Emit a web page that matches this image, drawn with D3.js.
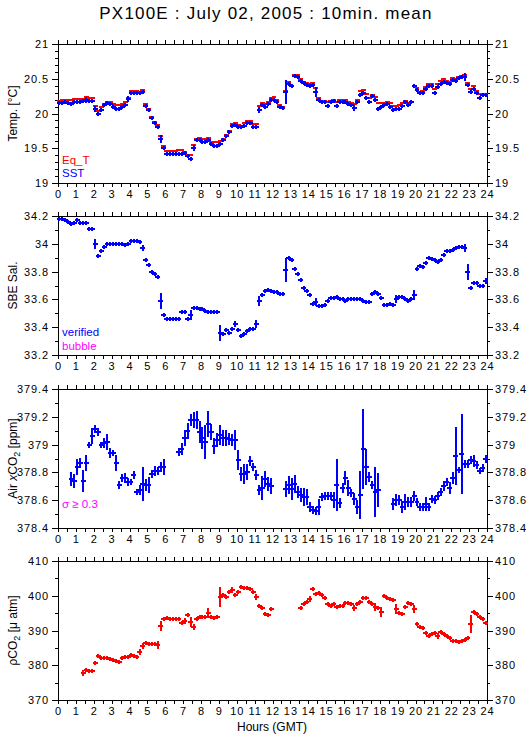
<!DOCTYPE html>
<html>
<head>
<meta charset="utf-8">
<script src="https://cdn.jsdelivr.net/npm/d3@7"></script>
<style>
  body { margin: 0; background: #fff; }
  svg text { font-family: "Liberation Sans", Arial, Helvetica, sans-serif; }
</style>
</head>
<body>
<svg id="chart" width="529" height="739"></svg>
<script>
// 10 min means, 6 slots per hour, 0-24 GMT (one row = one hour)
const eqT = [
  20.18,20.19,20.19,20.20,20.20,20.21,
  20.21,20.21,20.21,20.24,20.23,20.23,
  20.11,20.04,20.09,20.14,20.17,20.16,
  20.14,20.12,20.12,20.13,20.16,20.22,
  20.33,20.33,20.32,20.31,20.34,20.14,
  20.07,19.95,19.88,19.83,19.67,19.53,
  19.46,19.46,19.46,19.46,19.47,19.48,
  19.45,19.41,19.40,19.55,19.64,19.65,
  19.64,19.64,19.65,19.59,19.59,19.59,
  19.61,19.63,19.69,19.75,19.85,19.86,
  19.83,19.82,19.86,19.89,19.89,19.85,
  19.85,20.11,20.15,20.14,20.17,20.23,
  20.24,20.19,20.12,20.10,20.33,20.45,
  20.40,20.56,20.55,20.49,20.46,20.44,
  20.42,20.44,20.36,20.23,20.18,20.18,
  20.17,20.18,20.20,20.17,20.19,20.20,
  20.19,20.17,20.15,20.13,20.19,20.32,
  20.34,20.28,20.22,20.27,20.24,20.15,
  20.15,20.15,20.17,20.15,20.11,20.11,
  20.12,20.15,20.18,20.15,20.17,20.40,
  20.36,20.31,20.33,20.38,20.42,20.43,
  20.35,20.43,20.47,20.49,20.47,20.45,
  20.51,20.50,20.53,20.54,20.55,20.44,
  20.35,20.39,20.33,20.28,20.28,20.28
];

const sst = [
  20.15,20.15,20.16,20.15,20.14,20.16,
  20.17,20.17,20.18,20.20,20.18,20.18,
  20.07,19.99,20.05,20.12,20.15,20.14,
  20.10,20.07,20.07,20.10,20.12,20.21,
  20.29,20.29,20.30,20.30,20.31,20.11,
  20.05,19.93,19.87,19.80,19.63,19.50,
  19.42,19.42,19.42,19.42,19.42,19.42,
  19.43,19.39,19.35,19.50,19.62,19.62,
  19.59,19.59,19.62,19.56,19.53,19.53,
  19.56,19.62,19.68,19.74,19.82,19.83,
  19.80,19.80,19.82,19.87,19.87,19.81,
  19.81,20.05,20.12,20.10,20.14,20.20,
  20.19,20.17,20.10,20.08,20.31,20.43,
  20.39,20.54,20.52,20.47,20.44,20.41,
  20.40,20.41,20.31,20.20,20.16,20.16,
  20.11,20.16,20.18,20.11,20.16,20.17,
  20.16,20.13,20.12,20.08,20.16,20.27,
  20.29,20.23,20.17,20.25,20.20,20.07,
  20.10,20.12,20.14,20.10,20.05,20.06,
  20.07,20.11,20.16,20.12,20.16,20.39,
  20.34,20.29,20.30,20.35,20.39,20.40,
  20.30,20.38,20.43,20.46,20.44,20.43,
  20.48,20.47,20.51,20.52,20.52,20.41,
  20.31,20.35,20.30,20.23,20.26,20.27
];

const sstSd = [
  0.02,0.02,0.02,0.02,0.02,0.02,
  0.02,0.02,0.02,0.036,0.02,0.02,
  0.04,0.03,0.02,0.02,0.02,0.02,
  0.02,0.02,0.02,0.02,0.02,0.04,
  0.02,0.02,0.02,0.02,0.03,0.02,
  0.02,0.02,0.02,0.02,0.06,0.03,
  0.02,0.02,0.02,0.02,0.02,0.02,
  0.02,0.03,0.03,0.04,0.02,0.02,
  0.02,0.02,0.02,0.02,0.02,0.02,
  0.02,0.02,0.02,0.02,0.02,0.02,
  0.02,0.02,0.02,0.02,0.02,0.02,
  0.02,0.04,0.02,0.02,0.02,0.02,
  0.02,0.02,0.02,0.02,0.17,0.03,
  0.03,0.02,0.02,0.02,0.02,0.02,
  0.02,0.02,0.07,0.03,0.02,0.02,
  0.02,0.02,0.02,0.035,0.02,0.02,
  0.02,0.02,0.02,0.04,0.02,0.02,
  0.02,0.02,0.03,0.02,0.02,0.03,
  0.02,0.02,0.02,0.02,0.03,0.02,
  0.02,0.02,0.02,0.02,0.02,0.02,
  0.02,0.02,0.02,0.02,0.02,0.02,
  0.03,0.02,0.02,0.02,0.02,0.02,
  0.02,0.02,0.02,0.02,0.06,0.03,
  0.02,0.02,0.02,0.02,0.03,0.02
];

const salinity = [
  34.18,34.18,34.17,34.16,34.14,34.15,
  34.17,34.15,34.15,34.15,34.11,34.11,
  34.00,33.91,33.95,33.98,34.00,34.00,
  34.00,34.00,34.00,34.00,33.99,34.00,
  34.02,34.02,34.02,34.01,33.97,33.88,
  33.85,33.80,33.78,33.76,33.59,33.49,
  33.46,33.46,33.46,33.46,33.46,33.51,
  33.51,33.46,33.49,33.54,33.54,33.53,
  33.53,33.52,33.51,33.51,33.51,33.51,
  33.36,33.35,33.38,33.36,33.39,33.42,
  33.38,33.34,33.35,33.375,33.39,33.39,
  33.42,33.59,33.63,33.66,33.67,33.66,
  33.65,33.65,33.64,33.64,33.81,33.90,
  33.88,33.82,33.78,33.74,33.68,33.66,
  33.63,33.57,33.58,33.55,33.55,33.56,
  33.59,33.61,33.61,33.615,33.60,33.60,
  33.59,33.60,33.60,33.60,33.605,33.60,
  33.59,33.58,33.58,33.64,33.655,33.64,
  33.61,33.56,33.56,33.57,33.56,33.60,
  33.62,33.62,33.60,33.59,33.60,33.63,
  33.82,33.84,33.83,33.86,33.90,33.89,
  33.88,33.87,33.88,33.92,33.95,33.95,
  33.955,33.97,33.98,33.98,33.97,33.80,
  33.68,33.72,33.72,33.70,33.70,33.73
];

const salinitySd = [
  0.012,0.012,0.012,0.012,0.012,0.012,
  0.012,0.012,0.012,0.012,0.012,0.012,
  0.036,0.015,0.015,0.012,0.012,0.012,
  0.012,0.012,0.012,0.012,0.012,0.012,
  0.012,0.012,0.012,0.012,0.025,0.015,
  0.015,0.015,0.015,0.015,0.058,0.015,
  0.012,0.012,0.012,0.012,0.012,0.015,
  0.015,0.012,0.036,0.012,0.012,0.012,
  0.012,0.012,0.012,0.012,0.012,0.012,
  0.054,0.015,0.012,0.012,0.012,0.02,
  0.015,0.012,0.012,0.012,0.012,0.012,
  0.03,0.036,0.015,0.012,0.012,0.012,
  0.012,0.012,0.012,0.012,0.084,0.015,
  0.015,0.015,0.015,0.015,0.012,0.012,
  0.012,0.015,0.03,0.012,0.012,0.012,
  0.012,0.012,0.012,0.012,0.012,0.012,
  0.012,0.012,0.012,0.012,0.012,0.012,
  0.012,0.012,0.012,0.015,0.015,0.015,
  0.015,0.012,0.012,0.012,0.012,0.032,
  0.012,0.012,0.012,0.012,0.012,0.038,
  0.015,0.012,0.012,0.015,0.012,0.012,
  0.012,0.012,0.012,0.012,0.012,0.012,
  0.012,0.012,0.012,0.012,0.03,0.06,
  0.012,0.015,0.012,0.012,0.012,0.02
];

const airXco2 = [
  null,null,null,null,378.75,378.74,
  378.84,378.87,378.74,378.87,379.00,379.06,
  379.11,379.09,379.00,379.01,379.02,378.94,
  378.94,378.87,378.71,378.76,378.76,378.73,
  378.73,378.78,378.66,378.67,378.72,378.71,
  378.71,378.79,378.81,378.81,378.84,378.84,
  null,null,null,null,378.95,378.97,
  379.05,379.10,379.18,379.18,379.18,379.09,
  379.05,379.02,379.15,379.09,378.99,379.03,
  379.07,379.05,379.05,379.04,379.03,379.03,
  378.89,378.79,378.79,378.80,378.88,378.84,
  378.78,378.67,378.69,378.75,378.72,378.70,
  null,null,null,null,378.68,378.71,
  378.68,378.72,378.66,378.64,378.62,378.62,
  378.55,378.53,378.52,378.55,378.62,378.63,
  378.63,378.63,378.60,378.71,378.58,378.69,
  378.76,378.69,378.65,378.61,378.55,378.64,
  378.97,378.84,378.77,378.71,378.66,378.67,
  null,null,null,null,378.57,378.60,
  378.60,378.55,378.59,378.59,378.59,378.63,
  378.59,378.55,378.55,378.57,378.55,378.61,
  378.60,378.63,378.66,378.70,378.73,378.69,
  378.76,378.92,378.82,378.93,378.86,378.86,
  378.89,378.88,378.85,378.81,378.83,378.90
];

const airXco2Sd = [
  null,null,null,null,0.052,0.048,
  0.054,0.036,0.08,0.06,0.025,0.054,
  0.03,0.032,0.024,0.038,0.054,0.038,
  0.024,0.06,0.03,0.028,0.036,0.03,
  0.024,0.032,0.024,0.036,0.12,0.044,
  0.054,0.032,0.036,0.026,0.038,0.058,
  null,null,null,null,0.03,0.044,
  0.06,0.054,0.042,0.06,0.066,0.078,
  0.078,0.12,0.09,0.06,0.06,0.052,
  0.072,0.054,0.054,0.042,0.042,0.072,
  0.072,0.048,0.07,0.054,0.036,0.032,
  0.038,0.036,0.084,0.06,0.048,0.06,
  null,null,null,null,0.06,0.066,
  0.082,0.066,0.042,0.048,0.064,0.054,
  0.036,0.03,0.029,0.054,0.03,0.03,
  0.03,0.03,0.054,0.19,0.038,0.036,
  0.05,0.056,0.03,0.042,0.048,0.17,
  0.29,0.13,0.036,0.03,0.18,0.12,
  null,null,null,null,0.046,0.04,
  0.038,0.042,0.058,0.036,0.036,0.034,
  0.032,0.03,0.03,0.048,0.03,0.03,
  0.03,0.028,0.03,0.036,0.028,0.042,
  0.04,0.21,0.02,0.29,0.03,0.03,
  0.03,0.04,0.03,0.024,0.03,0.03
];

const pco2 = [
  null,null,null,null,null,null,
  null,null,377.87,378.63,378.44,378.44,
  380.55,382.66,382.18,381.99,382.18,381.80,
  381.51,381.32,381.03,381.99,382.47,382.47,
  382.95,382.76,382.47,383.72,385.64,386.31,
  386.02,386.02,386.02,385.83,391.29,393.31,
  393.50,393.31,393.31,393.31,393.31,392.06,
  392.73,394.46,392.35,391.10,393.21,393.79,
  393.79,393.79,394.94,393.98,393.69,393.98,
  399.54,400.22,399.54,400.98,401.65,400.22,
  401.17,402.42,402.13,402.13,401.94,400.98,
  399.74,397.15,396.57,394.65,394.46,396.19,
  null,null,null,null,null,null,
  null,null,null,396.57,397.63,398.30,
  398.97,401.85,400.50,400.89,400.22,399.45,
  397.63,397.15,397.53,396.86,397.15,397.05,
  398.01,397.82,397.53,396.38,397.53,398.30,
  399.45,399.26,398.11,397.53,396.67,396.38,
  395.42,399.93,399.26,399.06,398.78,396.19,
  394.94,394.65,396.86,398.01,397.53,396.19,
  391.87,391.10,390.62,389.18,388.42,388.90,
  389.18,388.42,389.66,388.90,388.51,387.75,
  386.98,386.98,386.79,386.98,387.17,387.75,
  391.78,395.23,394.75,393.79,393.21,392.06
];

const pco2Sd = [
  null,null,null,null,null,null,
  null,null,0.72,0.6,0.6,0.6,
  0.67,0.6,0.6,0.6,0.6,0.6,
  0.6,0.6,0.6,0.6,0.6,0.6,
  0.6,0.6,0.6,0.82,0.82,0.6,
  0.6,0.6,0.6,1.15,1.53,0.6,
  0.6,0.6,0.6,0.6,0.6,0.6,
  0.86,0.6,1.58,0.8,0.6,0.6,
  0.6,0.6,1.34,0.6,0.6,0.6,
  2.78,0.6,0.6,0.6,1.0,0.6,
  0.6,0.6,0.6,0.6,0.6,0.6,
  0.82,0.6,0.6,0.6,0.6,0.6,
  null,null,null,null,null,null,
  null,null,null,0.6,0.6,0.6,
  0.96,0.6,0.6,0.6,0.6,0.6,
  0.6,0.6,0.6,0.6,0.6,0.6,
  0.6,0.6,0.6,0.8,0.6,0.6,
  0.6,0.6,0.6,0.6,1.2,0.6,
  1.44,0.6,0.6,0.6,0.6,1.3,
  0.6,0.6,0.6,0.6,0.6,1.05,
  0.6,0.6,0.6,0.6,0.6,0.6,
  0.6,0.8,0.6,0.6,0.6,0.6,
  0.6,0.6,0.6,0.6,0.6,0.6,
  2.64,0.6,0.6,0.6,0.6,0.6
];

// axis ticks
const hourTicks = [0,1,2,3,4,5,6,7,8,9,10,11,12,13,14,15,16,17,18,19,20,21,22,23,24];
const tempTicks = [19, 19.5, 20, 20.5, 21];
const salTicks = [33.2, 33.4, 33.6, 33.8, 34, 34.2];
const xco2Ticks = [378.4, 378.6, 378.8, 379, 379.2, 379.4];
const pco2Ticks = [370, 380, 390, 400, 410];

const W = 529, H = 739;
const plotLeft = 58, plotRight = 487, panelH = 139;
const panelTops = [44, 216, 389, 561];
const BLUE = "#0000ff", RED = "#ff0000", MAGENTA = "#ff00ff";

const svg = d3.select("#chart");
svg.append("rect").attr("width", W).attr("height", H).attr("fill", "#fff");

const x = d3.scaleLinear().domain([0, 24]).range([plotLeft, plotRight]);
const halfHours = d3.range(0, 24.01, 0.5);

svg.append("text")
  .attr("x", 266).attr("y", 19)
  .attr("text-anchor", "middle")
  .attr("font-size", 17).attr("letter-spacing", 1.2)
  .text("PX100E : July 02, 2005 : 10min. mean");

// draws each 10-min mean as a horizontal bar with a vertical +/- sd bar
function drawSeries(g, y, values, sds, color) {
  const p = d3.path();
  values.forEach((v, i) => {
    if (v == null) return;
    const x0 = x(i / 6), x1 = x((i + 1) / 6), xc = Math.round((x0 + x1) / 2);
    const yv = Math.round(y(v));
    p.moveTo(Math.round(x0) - 1, yv); p.lineTo(Math.round(x1) + 1, yv);
    if (sds && sds[i] != null) {
      const e = Math.max(Math.round(Math.abs(y(v + sds[i]) - y(v))), 2);
      p.moveTo(xc, yv - e); p.lineTo(xc, yv + e);
    }
  });
  g.append("path").attr("d", p.toString())
    .attr("fill", "none").attr("stroke", color).attr("stroke-width", 2)
    .attr("shape-rendering", "crispEdges");
}

function drawPanel(top, domain, ticks, minorStep, fmt) {
  const y = d3.scaleLinear().domain(domain).range([top + panelH, top]);
  const minor = d3.range(domain[0], domain[1] + minorStep / 2, minorStep);
  const g = svg.append("g");

  g.append("rect").attr("x", plotLeft).attr("y", top)
    .attr("width", plotRight - plotLeft).attr("height", panelH)
    .attr("fill", "none").attr("stroke", "#000").attr("stroke-width", 1)
    .attr("shape-rendering", "crispEdges");

  const styleAxis = sel => {
    sel.select(".domain").remove();
    sel.selectAll("text").attr("font-size", 11).attr("letter-spacing", 0.9)
      .attr("font-family", "'Liberation Sans', Arial, sans-serif").attr("fill", "#000");
    sel.selectAll("line").attr("stroke", "#000").attr("shape-rendering", "crispEdges");
  };

  g.append("g").attr("transform", `translate(${plotLeft},0)`)
    .call(d3.axisLeft(y).tickValues(minor).tickSize(3).tickFormat("")).call(styleAxis);
  g.append("g").attr("transform", `translate(${plotLeft},0)`)
    .call(d3.axisLeft(y).tickValues(ticks).tickSize(6).tickPadding(3).tickFormat(fmt)).call(styleAxis);
  g.append("g").attr("transform", `translate(${plotRight},0)`)
    .call(d3.axisRight(y).tickValues(minor).tickSize(3).tickFormat("")).call(styleAxis);
  g.append("g").attr("transform", `translate(${plotRight},0)`)
    .call(d3.axisRight(y).tickValues(ticks).tickSize(6).tickPadding(2).tickFormat(fmt)).call(styleAxis);

  g.append("g").attr("transform", `translate(0,${top})`)
    .call(d3.axisTop(x).tickValues(halfHours).tickSize(4).tickFormat("")).call(styleAxis);
  g.append("g").attr("transform", `translate(0,${top + panelH})`)
    .call(d3.axisBottom(x).tickValues(halfHours).tickSize(4).tickFormat("")).call(styleAxis);
  g.append("g").attr("transform", `translate(0,${top + panelH})`)
    .call(d3.axisBottom(x).tickValues(hourTicks).tickSize(4).tickPadding(3).tickFormat(d3.format("d"))).call(styleAxis);

  return { g, y };
}

function yTitle(top, parts) {
  const t = svg.append("text")
    .attr("transform", `translate(17,${top + panelH / 2}) rotate(-90)`)
    .attr("text-anchor", "middle").attr("font-size", 12);
  parts.forEach(([s, style]) => {
    const ts = t.append("tspan").text(s);
    if (style === "sub") ts.attr("font-size", 9).attr("dy", 3);
    if (style === "after") ts.attr("dy", -3);
    if (style === "it") ts.attr("font-style", "italic");
  });
}

function legend(xp, yp, label, color) {
  svg.append("text").attr("x", xp).attr("y", yp)
    .attr("font-size", 11.5).attr("fill", color).text(label);
}

const num = d => String(+d.toFixed(2));

// Panel 1: temperatures
const p1 = drawPanel(panelTops[0], [19, 21], tempTicks, 0.1, num);
drawSeries(p1.g, p1.y, eqT, null, RED);
drawSeries(p1.g, p1.y, sst, sstSd, BLUE);
yTitle(panelTops[0], [["Temp. [°C]"]]);
legend(62, 164, "Eq_T", RED);
legend(62, 177, "SST", BLUE);

// Panel 2: salinity
const p2 = drawPanel(panelTops[1], [33.2, 34.2], salTicks, 0.1, num);
drawSeries(p2.g, p2.y, salinity, salinitySd, BLUE);
yTitle(panelTops[1], [["SBE Sal."]]);
legend(62, 336, "verified", BLUE);
legend(62, 350, "bubble", MAGENTA);

// Panel 3: atmospheric xCO2
const p3 = drawPanel(panelTops[2], [378.4, 379.4], xco2Ticks, 0.1, num);
drawSeries(p3.g, p3.y, airXco2, airXco2Sd, BLUE);
yTitle(panelTops[2], [["Air "], ["x", "it"], ["CO"], ["2", "sub"], [" [ppm]", "after"]]);
legend(62, 508, "σ ≥ 0.3", MAGENTA);

// Panel 4: seawater pCO2
const p4 = drawPanel(panelTops[3], [370, 410], pco2Ticks, 5, num);
drawSeries(p4.g, p4.y, pco2, pco2Sd, RED);
yTitle(panelTops[3], [["ρCO"], ["2", "sub"], [" [μ atm]", "after"]]);

svg.append("text").attr("x", 272).attr("y", 731)
  .attr("text-anchor", "middle").attr("font-size", 12)
  .text("Hours (GMT)");
</script>
</body>
</html>
